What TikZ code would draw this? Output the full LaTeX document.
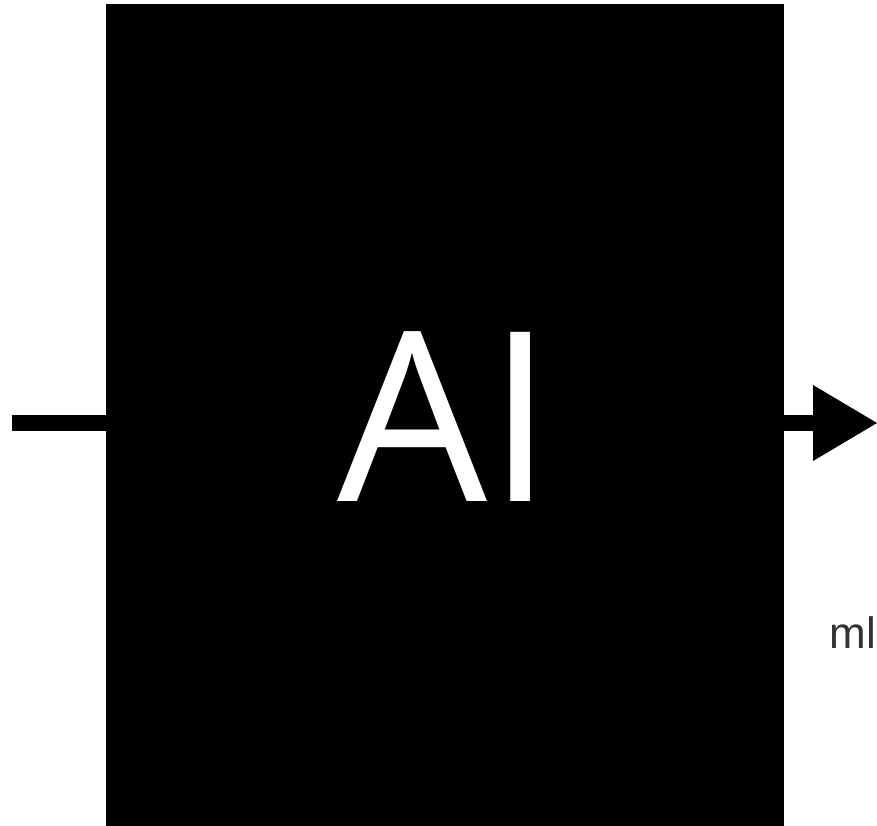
\documentclass[tikz,border=0pt]{standalone}
\usepackage{fontspec}
\newfontfamily\boxfont{Open Sans}
\newfontfamily\notefont{Liberation Sans}
\usetikzlibrary{arrows.meta}
\definecolor{notegray}{HTML}{333333}
\tikzset{
  blackbox/.style={rectangle, fill=black, draw=none, inner sep=0pt},
  bigtext/.style={text=white, inner sep=0pt, font=\boxfont\fontsize{237}{237}\selectfont},
  wire/.style={line width=16pt, line cap=butt, black},
  notetext/.style={text=notegray, inner sep=0pt, font=\notefont\fontsize{44}{44}\selectfont}
}
\begin{document}
\begin{tikzpicture}[x=1pt, y=-1pt]
  \useasboundingbox (0,0) rectangle (877,826);
  \clip (0,0) rectangle (877,826);
  % the processing block
  \node[blackbox, minimum width=678pt, minimum height=822pt] (ai) at (445,415) {};
  \node[bigtext, anchor=base west] (ailabel) at (337,501) {AI};
  % input and output
  \coordinate (in) at (12,423);
  \coordinate (out) at (877,423);
  \draw[wire] (in) -- (in -| ai.west);
  \draw[wire, -{Triangle[length=64pt, width=76pt, line width=0pt]}] (out -| ai.east) -- (out);
  % side note
  \node[notetext, anchor=base east] (note) at (876.5,648) {ml};
\end{tikzpicture}
\end{document}
